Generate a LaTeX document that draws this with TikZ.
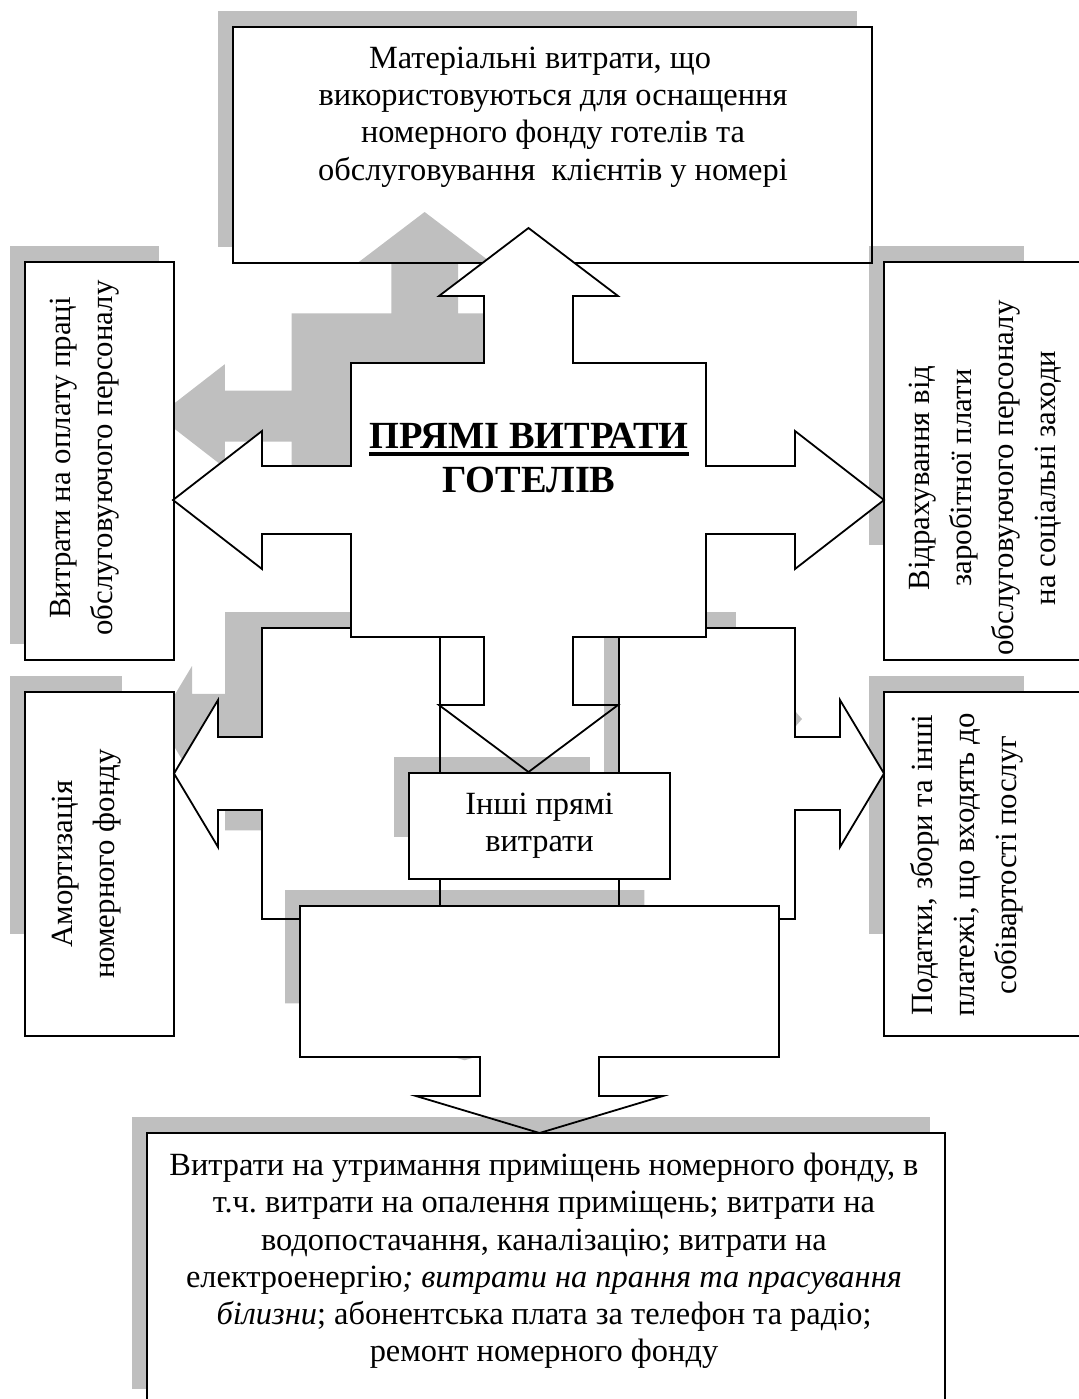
\documentclass[tikz,border=0pt]{standalone}
\usepackage{fontspec}
\setmainfont{Liberation Serif}
\frenchspacing

\newsavebox{\ulbox}
\newcommand{\thickul}[1]{\sbox\ulbox{#1}\rlap{\rule[-3.6pt]{\wd\ulbox}{1.8pt}}\usebox\ulbox}

\newcommand{\uppercall}{(528.5,228) -- (618,296) -- (573,296) -- (573,363) -- (706,363) -- (706,466)
  -- (795,466) -- (795,431) -- (884,500) -- (795,569) -- (795,534) -- (706,534) -- (706,637)
  -- (573,637) -- (573,705) -- (618,705) -- (528.5,772) -- (439,705) -- (484,705) -- (484,637)
  -- (351,637) -- (351,534) -- (262,534) -- (262,569) -- (173,500) -- (262,431) -- (262,466)
  -- (351,466) -- (351,363) -- (484,363) -- (484,296) -- (439,296) -- cycle}
\newcommand{\lowercall}{(262,628) -- (795,628) -- (795,737) -- (840,737) -- (840,700) -- (884,773.5)
  -- (840,847) -- (840,810) -- (795,810) -- (795,919) -- (262,919) -- (262,810) -- (218,810)
  -- (218,847) -- (174,773.5) -- (218,700) -- (218,737) -- (262,737) -- cycle}
\newcommand{\roomcall}{(300,906) -- (779,906) -- (779,1057) -- (599,1057) -- (599,1096) -- (663,1096)
  -- (539.5,1133) -- (416,1096) -- (480,1096) -- (480,1057) -- (300,1057) -- cycle}

\begin{document}
\begin{tikzpicture}[x=0.5pt, y=-0.5pt, line width=0.9pt,
  shd/.style={fill=black, fill opacity=0.25},
  box/.style={draw, fill=white, inner sep=0pt},
  txt/.style={align=center, inner sep=0pt, font=\fontsize{16.2}{18.6}\selectfont},
  vtxt/.style={txt, rotate=90, font=\fontsize{15.4}{21}\selectfont},
  arrowshape/.style={draw, fill=white, line join=miter}]
\useasboundingbox (0,0) rectangle (1079,1399);

\fill[shd] (218,11) rectangle (857,247);
\node[box, minimum width=319.5pt, minimum height=118pt] (matbox) at (552.5,145) {};
\node[txt] (mattext) at (553,117) {Матеріальні витрати, що\hspace*{13pt}\\використовуються для оснащення\\номерного фонду готелів та\\обслуговування\ \ клієнтів у номері};

\fill[shd, shift={(158,212)}, scale=0.75, shift={(-173,-228)}] \uppercall;

\fill[shd] (10,246) rectangle (159,644);
\node[box, minimum width=74.5pt, minimum height=199pt] (paybox) at (99.5,461) {};
\node[vtxt] (paytext) at (84.5,458) {Витрати на оплату праці\\обслуговуючого персоналу};

\fill[shd] (869,246) rectangle (1024,545);
\node[box, minimum width=103.5pt, minimum height=199pt] (socbox) at (987.5,461) {};
\node[vtxt] (soctext) at (985,478) {Відрахування від\\заробітної плати\\обслуговуючого персоналу\\на соціальні заходи};

\fill[shd] (869,676) rectangle (1024,934);
\node[box, minimum width=103.5pt, minimum height=172pt] (taxbox) at (987.5,864) {};
\node[vtxt] (taxtext) at (967,865) {Податки, збори та інші\\платежі, що входять до\\собівартості послуг};

\fill[shd, shift={(159,612)}, scale=0.75, shift={(-174,-628)}] \lowercall;
\fill[shd] (10,676) rectangle (122,934);
\node[box, minimum width=74.5pt, minimum height=172pt] (amortbox) at (99.5,864) {};
\node[vtxt] (amorttext) at (87,864) {Амортизація\\номерного фонду};

\draw[arrowshape] \lowercall;
\draw[arrowshape] \uppercall;
\node[txt, font=\fontsize{19.2}{22}\selectfont\bfseries] (title) at (529,458) {\thickul{ПРЯМІ ВИТРАТИ}\\ГОТЕЛІВ};

\draw (440,637) -- (440,906) (619,637) -- (619,906);

\fill[shd] (394,757) rectangle (590,837);
\fill[shd] (604,637) rectangle (619,772);
\fill[shd] (706,612) rectangle (736,628);
\fill[shd] (795,711) -- (802,719) -- (795,727) -- cycle;
\node[box, txt, minimum width=130.5pt, minimum height=53pt] (otherbox) at (539.5,826) {Інші прямі\\витрати};

\fill[shd, shift={(285,890)}, scale=0.75, shift={(-300,-906)}] \roomcall;
\draw[arrowshape] \roomcall;

\fill[shd] (132,1117) rectangle (930,1389);
\node[box, minimum width=399pt, minimum height=136pt] (roombox) at (546,1269) {};
\node[txt] (roomtext) at (544,1261) {Витрати на утримання приміщень номерного фонду, в\\т.ч. витрати на опалення приміщень; витрати на\\водопостачання, каналізацію; витрати на\\електроенергію\textit{; витрати на прання та прасування}\\\textit{білизни}; абонентська плата за телефон та радіо;\\ремонт номерного фонду};
\end{tikzpicture}
\end{document}
